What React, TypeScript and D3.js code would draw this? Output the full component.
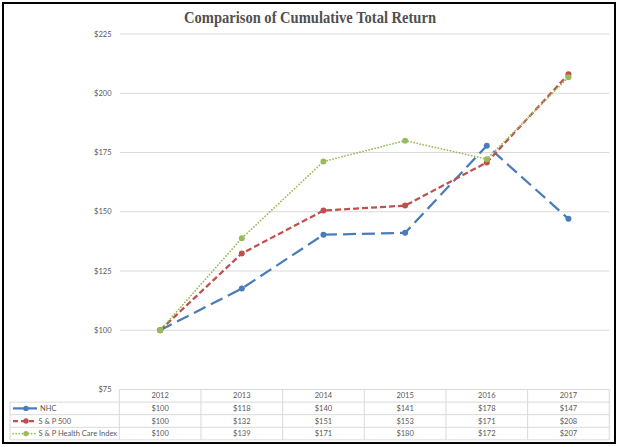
import React, { useRef, useEffect } from 'react';
import * as d3 from 'd3';

const years = ['2012', '2013', '2014', '2015', '2016', '2017'];
const seriesNames = ['NHC', 'S & P 500', 'S & P Health Care Index'];
const nhc = [100, 117.6, 140.3, 141.1, 177.9, 147.0];
const sp500 = [100, 132.4, 150.5, 152.6, 170.8, 208.0];
const healthCare = [100, 138.8, 171.2, 180.0, 172.2, 206.8];
const yTicks = [75, 100, 125, 150, 175, 200, 225];

const W = 618;
const H = 447;

export default function App() {
  const ref = useRef<SVGSVGElement>(null);

  useEffect(() => {
    const svg = d3.select(ref.current);
    svg.selectAll('*').remove();

    const font = 'Lato, "Open Sans", sans-serif';
    const textColor = '#595959';
    const gridColor = '#D9D9D9';

    const x = d3.scaleBand<string>().domain(years).range([119.3, 609.3]);
    const y = d3.scaleLinear().domain([75, 225]).range([389.5, 34]);
    const cx = (yr: string) => x(yr)! + x.bandwidth() / 2;

    svg.append('rect').attr('width', W).attr('height', H).attr('fill', '#fff');

    // outer border
    svg
      .append('rect')
      .attr('x', 3)
      .attr('y', 3)
      .attr('width', 612)
      .attr('height', 440)
      .attr('fill', 'none')
      .attr('stroke', '#000')
      .attr('stroke-width', 2);

    svg
      .append('text')
      .attr('x', 310)
      .attr('y', 23)
      .attr('text-anchor', 'middle')
      .attr('font-family', '"Liberation Serif", "Times New Roman", serif')
      .attr('font-weight', 'bold')
      .attr('font-size', '16px')
      .attr('textLength', 252)
      .attr('lengthAdjust', 'spacingAndGlyphs')
      .attr('fill', '#505050')
      .text('Comparison of Cumulative Total Return');

    // gridlines
    svg
      .selectAll('.grid')
      .data(yTicks.filter((t) => t > 75))
      .enter()
      .append('line')
      .attr('x1', 120)
      .attr('x2', 609.3)
      .attr('y1', (d) => y(d))
      .attr('y2', (d) => y(d))
      .attr('stroke', gridColor)
      .attr('stroke-width', 1);

    svg
      .selectAll('.ytick')
      .data(yTicks)
      .enter()
      .append('text')
      .attr('x', 111.5)
      .attr('y', (d) => y(d))
      .attr('dy', '0.35em')
      .attr('text-anchor', 'end')
      .attr('font-family', font)
      .attr('font-size', '7.5px')
      .attr('fill', textColor)
      .text((d) => `$${d}`);

    const series = [
      { name: seriesNames[0], values: nhc, color: '#4A7CBA', dash: '13,6', width: 2.25, cap: 'butt' },
      { name: seriesNames[1], values: sp500, color: '#C0504D', dash: '6,3', width: 2.25, cap: 'butt' },
      { name: seriesNames[2], values: healthCare, color: '#9BBB59', dash: '0.1,3', width: 1.75, cap: 'round' },
    ];

    const line = d3
      .line<number>()
      .x((_, i) => cx(years[i]))
      .y((d) => y(d));

    series.forEach((s) => {
      svg
        .append('path')
        .attr('d', line(s.values)!)
        .attr('fill', 'none')
        .attr('stroke', s.color)
        .attr('stroke-width', s.width)
        .attr('stroke-dasharray', s.dash)
        .attr('stroke-linecap', s.cap);
      svg
        .selectAll(null)
        .data(s.values)
        .enter()
        .append('circle')
        .attr('cx', (_, i) => cx(years[i]))
        .attr('cy', (d) => y(d))
        .attr('r', 3)
        .attr('fill', s.color);
    });

    // data table
    const rowH = 12.6;
    const top = y(75);
    const left = 10;
    const right = 609.3;
    const g = svg.append('g');
    const tableLine = (x1: number, y1: number, x2: number, y2: number) =>
      g
        .append('line')
        .attr('x1', x1)
        .attr('y1', y1)
        .attr('x2', x2)
        .attr('y2', y2)
        .attr('stroke', gridColor)
        .attr('stroke-width', 1);

    tableLine(119.3, top, right, top);
    for (let r = 1; r <= 4; r++) tableLine(left, top + r * rowH, right, top + r * rowH);
    tableLine(left, top + rowH, left, top + 4 * rowH);
    years.forEach((yr) => tableLine(x(yr)!, top, x(yr)!, top + 4 * rowH));
    tableLine(right, top, right, top + 4 * rowH);

    years.forEach((yr) => {
      g.append('text')
        .attr('x', cx(yr))
        .attr('y', top + rowH / 2)
        .attr('dy', '0.35em')
        .attr('text-anchor', 'middle')
        .attr('font-family', font)
        .attr('font-size', '7.5px')
        .attr('fill', textColor)
        .text(yr);
    });

    series.forEach((s, r) => {
      const ry = top + (r + 1) * rowH + rowH / 2;
      s.values.forEach((v, i) => {
        g.append('text')
          .attr('x', cx(years[i]))
          .attr('y', ry)
          .attr('dy', '0.35em')
          .attr('text-anchor', 'middle')
          .attr('font-family', font)
          .attr('font-size', '7.5px')
          .attr('fill', textColor)
          .text(`$${Math.round(v)}`);
      });
      // legend key
      g.append('line')
        .attr('x1', 13)
        .attr('x2', 37)
        .attr('y1', ry)
        .attr('y2', ry)
        .attr('stroke', s.color)
        .attr('stroke-width', s.width)
        .attr('stroke-dasharray', r === 0 ? null : r === 1 ? '5,3' : '0.1,3')
        .attr('stroke-linecap', s.cap);
      g.append('circle').attr('cx', 26).attr('cy', ry).attr('r', 2.7).attr('fill', s.color);
      g.append('text')
        .attr('x', r === 0 ? 40 : 38.5)
        .attr('y', ry)
        .attr('dy', '0.35em')
        .attr('font-family', font)
        .attr('font-size', '7.5px')
        .attr('fill', textColor)
        .text(s.name);
    });
  }, []);

  return (
    <svg
      ref={ref}
      width={W}
      height={H}
      style={{ position: 'absolute', left: 0, top: 0, display: 'block' }}
    />
  );
}
